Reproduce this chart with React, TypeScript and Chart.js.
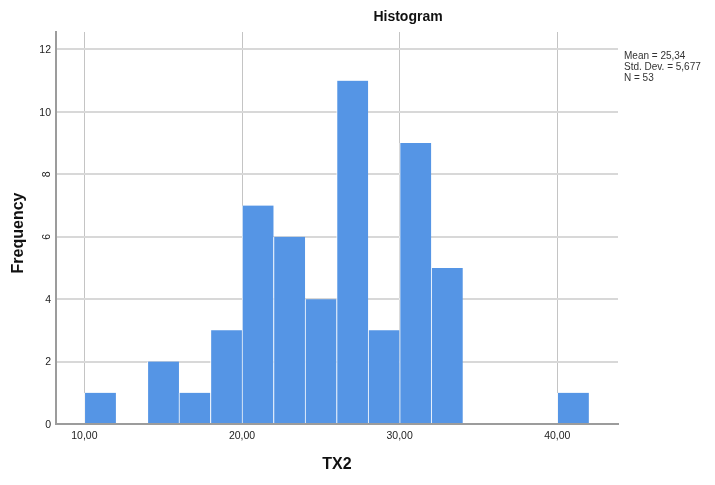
import React, { useEffect, useRef } from "react";
import { Chart, registerables } from "chart.js";

Chart.register(...registerables);

const binCenters = [11, 13, 15, 17, 19, 21, 23, 25, 27, 29, 31, 33, 35, 37, 39, 41];
const frequencies = [1, 0, 2, 1, 3, 7, 6, 4, 11, 3, 9, 5, 0, 0, 0, 1];
const xTickValues = [10, 20, 30, 40];
const yTickValues = [0, 2, 4, 6, 8, 10, 12];
const rotatedYTicks = [6, 8];
const statsLines = ["Mean = 25,34", "Std. Dev. = 5,677", "N = 53"];
const chartTitle = "Histogram";
const xTitle = "TX2";
const yTitle = "Frequency";

const FONT = "'Liberation Sans', Arial, Helvetica, sans-serif";
const fmtX = (v: number) => v.toFixed(2).replace(".", ",");

const textPlugin = {
  id: "spssText",
  afterDraw(chart: any) {
    const ctx = chart.ctx as CanvasRenderingContext2D;
    const area = chart.chartArea;
    const y = chart.scales.y;
    const x = chart.scales.x;
    ctx.save();
    // title
    ctx.fillStyle = "#111";
    ctx.font = `bold 14px ${FONT}`;
    ctx.textAlign = "center";
    ctx.textBaseline = "middle";
    ctx.fillText(chartTitle, 408, 17);

    // x tick labels
    ctx.fillStyle = "#222";
    ctx.font = `10.5px ${FONT}`;
    ctx.textAlign = "center";
    ctx.textBaseline = "middle";
    xTickValues.forEach((v) => {
      ctx.fillText(fmtX(v), x.getPixelForValue(v), area.bottom + 12);
    });

    // y tick labels
    yTickValues.forEach((v) => {
      const py = y.getPixelForValue(v);
      if (rotatedYTicks.includes(v)) {
        ctx.save();
        ctx.translate(area.left - 9, py);
        ctx.rotate(-Math.PI / 2);
        ctx.textAlign = "center";
        ctx.textBaseline = "middle";
        ctx.fillText(String(v), 0, 0);
        ctx.restore();
      } else {
        ctx.textAlign = "right";
        ctx.textBaseline = "middle";
        ctx.fillText(String(v), area.left - 5, py + 1);
      }
    });

    // y axis title
    ctx.save();
    ctx.fillStyle = "#111";
    ctx.font = `bold 16px ${FONT}`;
    ctx.translate(19, 233);
    ctx.rotate(-Math.PI / 2);
    ctx.textAlign = "center";
    ctx.textBaseline = "middle";
    ctx.fillText(yTitle, 0, 0);
    ctx.restore();

    // x axis title
    ctx.fillStyle = "#111";
    ctx.font = `bold 16px ${FONT}`;
    ctx.textAlign = "center";
    ctx.textBaseline = "middle";
    ctx.fillText(xTitle, 337, 465);

    // stats
    ctx.fillStyle = "#333";
    ctx.font = `10px ${FONT}`;
    ctx.textAlign = "left";
    ctx.textBaseline = "middle";
    statsLines.forEach((s, i) => {
      ctx.fillText(s, 624, 56 + i * 11);
    });
    ctx.restore();
  },
};

export default function App() {
  const ref = useRef<HTMLCanvasElement | null>(null);

  useEffect(() => {
    if (!ref.current) return;
    const chart = new Chart(ref.current, {
      type: "bar",
      data: {
        datasets: [
          {
            data: binCenters.map((c, i) => ({ x: c, y: frequencies[i] })),
            backgroundColor: "#5595e5",
            borderColor: "rgba(255,255,255,0.9)",
            borderWidth: { left: 1, right: 0, top: 0, bottom: 0 },
            borderSkipped: false,
            barPercentage: 1,
            categoryPercentage: 1,
          },
        ],
      },
      options: {
        animation: false,
        responsive: true,
        maintainAspectRatio: false,
        layout: { padding: { left: 56, right: 97, top: 32, bottom: 61 } },
        plugins: {
          legend: { display: false },
          title: { display: false },
          tooltip: { enabled: false },
        },
        scales: {
          x: {
            type: "linear",
            offset: false,
            min: 8.2,
            max: 43.85,
            afterBuildTicks: (s: any) => {
              s.ticks = xTickValues.map((v) => ({ value: v }));
            },
            afterFit: (s: any) => {
              s.height = 0;
            },
            ticks: { display: false },
            grid: { color: "#c4c4c4", lineWidth: 1, drawTicks: false, offset: false },
            border: { color: "#9c9c9c", width: 2 },
          },
          y: {
            type: "linear",
            min: 0,
            max: 12.56,
            afterBuildTicks: (s: any) => {
              s.ticks = yTickValues.map((v) => ({ value: v }));
            },
            afterFit: (s: any) => {
              s.width = 0;
            },
            ticks: { display: false },
            grid: {
              color: (c: any) => (c.tick && c.tick.value === 0 ? "rgba(0,0,0,0)" : "#d8d8d8"),
              lineWidth: 2,
              drawTicks: false,
            },
            border: { color: "#9c9c9c", width: 2 },
          },
        },
      },
      plugins: [textPlugin],
    });
    return () => chart.destroy();
  }, []);

  return (
    <div style={{ position: "absolute", left: 0, top: 0, width: 715, height: 485, background: "#fff" }}>
      <canvas ref={ref} />
    </div>
  );
}
